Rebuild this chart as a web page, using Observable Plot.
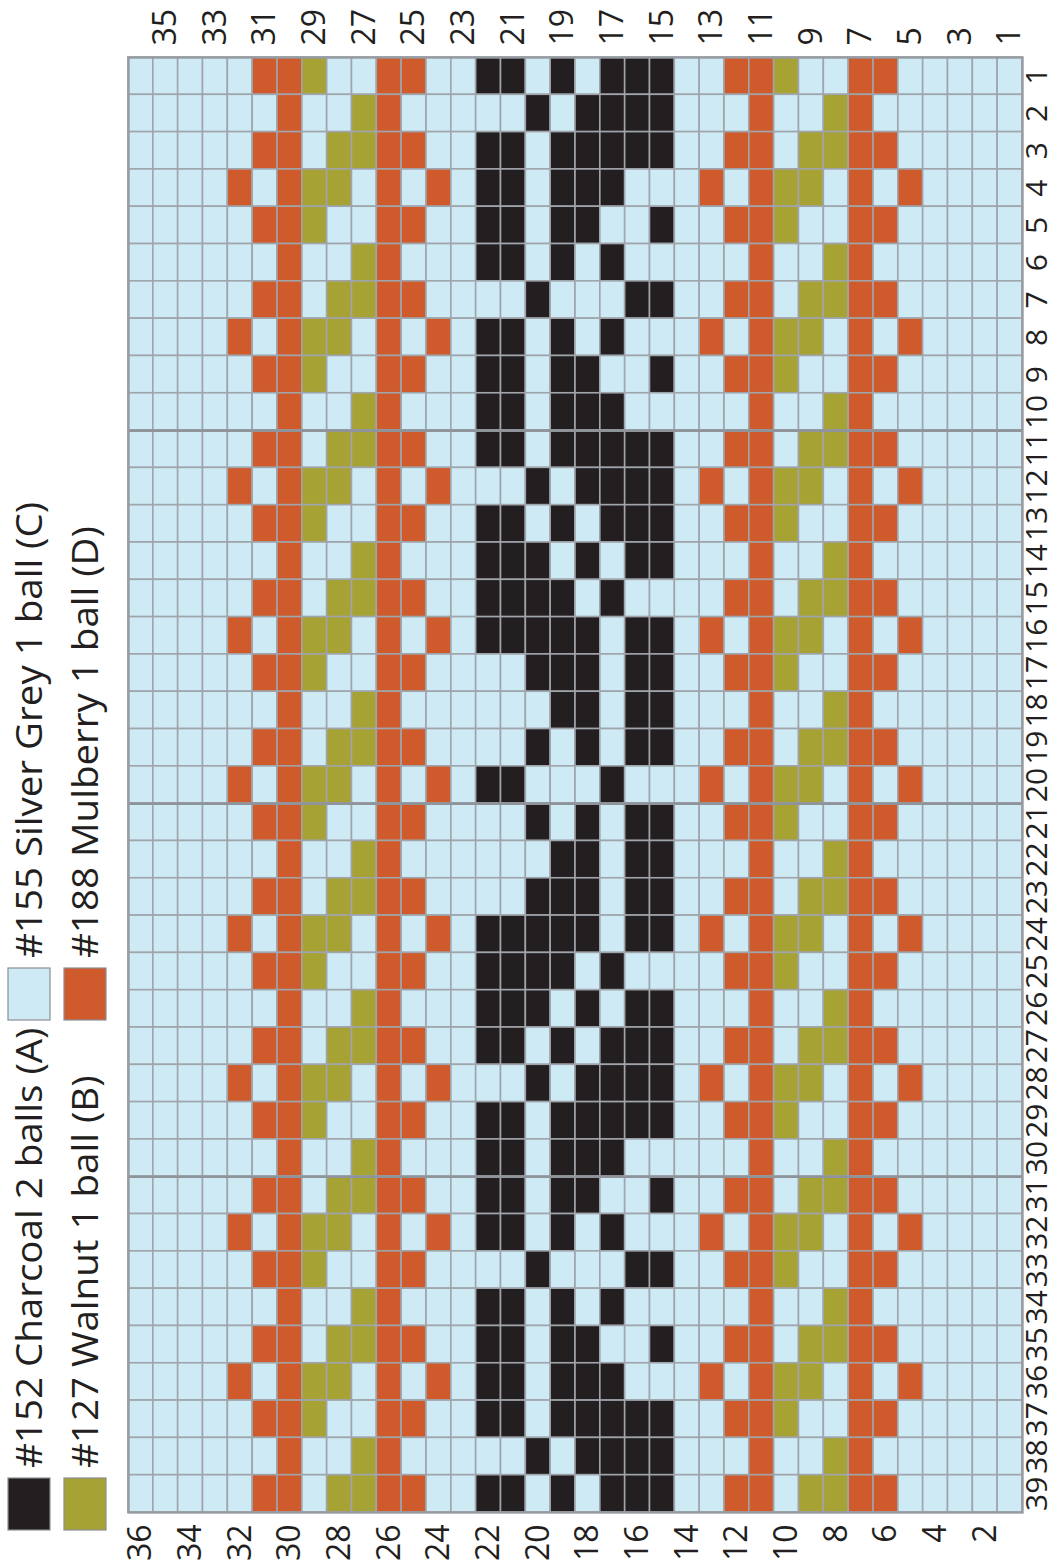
<!DOCTYPE html>
<html><head><meta charset="utf-8">
<script src="https://cdn.jsdelivr.net/npm/d3@7"></script>
<script src="https://cdn.jsdelivr.net/npm/@observablehq/plot@0.6"></script>
<style>
html,body{margin:0;padding:0;background:#fff;}
#chart{position:relative;width:1057px;height:1568px;overflow:hidden;}
</style></head><body><div id="chart"></div>
<script>
// Stitch columns left to right, rows top to bottom
const stitchNumbers = [36,35,34,33,32,31,30,29,28,27,26,25,24,23,22,21,20,19,18,17,16,15,14,13,12,11,10,9,8,7,6,5,4,3,2,1];
const rowNumbers = [1,2,3,4,5,6,7,8,9,10,11,12,13,14,15,16,17,18,19,20,21,22,23,24,25,26,27,28,29,30,31,32,33,34,35,36,37,38,39];
const topTicks = [35,33,31,29,27,25,23,21,19,17,15,13,11,9,7,5,3,1];
const bottomTicks = [36,34,32,30,28,26,24,22,20,18,16,14,12,10,8,6,4,2];
const heavyRowBreaks = [10,20,30];

// Colour codes per cell (A charcoal, B walnut, C silver grey, D mulberry); spaces are only separators
const chartRows = [
  "CCCC CDDBCCDDC C AACACAAA C CDDBCCDDC CCCC",
  "CCCC CCDCCBDCC C CCACAAAA C CCDCCBDCC CCCC",
  "CCCC CDDCBBDDC C AACAAAAA C CDDCBBDDC CCCC",
  "CCCC DCDBBCDCD C AACAAACC C DCDBBCDCD CCCC",
  "CCCC CDDBCCDDC C AACAACCA C CDDBCCDDC CCCC",
  "CCCC CCDCCBDCC C AACACACC C CCDCCBDCC CCCC",
  "CCCC CDDCBBDDC C CCACCCAA C CDDCBBDDC CCCC",
  "CCCC DCDBBCDCD C AACACACC C DCDBBCDCD CCCC",
  "CCCC CDDBCCDDC C AACAACCA C CDDBCCDDC CCCC",
  "CCCC CCDCCBDCC C AACAAACC C CCDCCBDCC CCCC",
  "CCCC CDDCBBDDC C AACAAAAA C CDDCBBDDC CCCC",
  "CCCC DCDBBCDCD C CCACAAAA C DCDBBCDCD CCCC",
  "CCCC CDDBCCDDC C AACACAAA C CDDBCCDDC CCCC",
  "CCCC CCDCCBDCC C AAACACAA C CCDCCBDCC CCCC",
  "CCCC CDDCBBDDC C AAAACACC C CDDCBBDDC CCCC",
  "CCCC DCDBBCDCD C AAAAACAA C DCDBBCDCD CCCC",
  "CCCC CDDBCCDDC C CCAAACAA C CDDBCCDDC CCCC",
  "CCCC CCDCCBDCC C CCCAACAA C CCDCCBDCC CCCC",
  "CCCC CDDCBBDDC C CCACACAA C CDDCBBDDC CCCC",
  "CCCC DCDBBCDCD C AACCCACC C DCDBBCDCD CCCC",
  "CCCC CDDBCCDDC C CCACACAA C CDDBCCDDC CCCC",
  "CCCC CCDCCBDCC C CCCAACAA C CCDCCBDCC CCCC",
  "CCCC CDDCBBDDC C CCAAACAA C CDDCBBDDC CCCC",
  "CCCC DCDBBCDCD C AAAAACAA C DCDBBCDCD CCCC",
  "CCCC CDDBCCDDC C AAAACACC C CDDBCCDDC CCCC",
  "CCCC CCDCCBDCC C AAACACAA C CCDCCBDCC CCCC",
  "CCCC CDDCBBDDC C AACACAAA C CDDCBBDDC CCCC",
  "CCCC DCDBBCDCD C CCACAAAA C DCDBBCDCD CCCC",
  "CCCC CDDBCCDDC C AACAAAAA C CDDBCCDDC CCCC",
  "CCCC CCDCCBDCC C AACAAACC C CCDCCBDCC CCCC",
  "CCCC CDDCBBDDC C AACAACCA C CDDCBBDDC CCCC",
  "CCCC DCDBBCDCD C AACACACC C DCDBBCDCD CCCC",
  "CCCC CDDBCCDDC C CCACCCAA C CDDBCCDDC CCCC",
  "CCCC CCDCCBDCC C AACACACC C CCDCCBDCC CCCC",
  "CCCC CDDCBBDDC C AACAACCA C CDDCBBDDC CCCC",
  "CCCC DCDBBCDCD C AACAAACC C DCDBBCDCD CCCC",
  "CCCC CDDBCCDDC C AACAAAAA C CDDBCCDDC CCCC",
  "CCCC CCDCCBDCC C CCACAAAA C CCDCCBDCC CCCC",
  "CCCC CDDCBBDDC C AACACAAA C CDDCBBDDC CCCC"
];

const yarnCodes = ["A","B","C","D"];
const yarnLabels = ["#152 Charcoal 2 balls (A)","#127 Walnut 1 ball (B)","#155 Silver Grey 1 ball (C)","#188 Mulberry 1 ball (D)"];
const yarnColors = ["#231f20","#a7a234","#cdeaf5","#cf5a2b"];

const cells = chartRows.flatMap((s, i) =>
  s.replace(/ /g, "").split("").map((code, j) => ({row: rowNumbers[i], stitch: stitchNumbers[j], code}))
);

const gridStroke = "#a0a4ab";
const textColor = "#231f20";
const fontSize = 32;

const plot = Plot.plot({
  width: 1057,
  height: 1568,
  marginLeft: 128,
  marginRight: 35,
  marginTop: 57,
  marginBottom: 56,
  style: {fontFamily: "'Open Sans', sans-serif", color: textColor, background: "#fff"},
  x: {type: "linear", domain: [36.5, 0.5], axis: null},
  y: {type: "linear", domain: [39.5, 0.5], axis: null},
  color: {type: "ordinal", domain: yarnCodes, range: yarnColors},
  marks: [
    Plot.rect(cells, {
      x1: d => d.stitch + 0.5, x2: d => d.stitch - 0.5,
      y1: d => d.row - 0.5, y2: d => d.row + 0.5,
      fill: "code", stroke: gridStroke, strokeWidth: 1.6
    }),
    Plot.ruleY(heavyRowBreaks, {y: d => d + 0.5, stroke: "#8f939a", strokeWidth: 2.6}),
    Plot.frame({stroke: "#979ba2", strokeWidth: 2.4}),
    Plot.axisX(topTicks, {anchor: "top", tickSize: 0, tickPadding: 12, tickRotate: -90, fontSize, label: null}),
    Plot.axisX(bottomTicks, {anchor: "bottom", tickSize: 0, tickPadding: 12, tickRotate: -90, fontSize, label: null}),
    Plot.axisY(rowNumbers, {anchor: "right", tickSize: 0, tickPadding: 24, tickRotate: -90, fontSize: 30, label: null})
  ]
});
document.getElementById("chart").appendChild(plot);

// Legend, rotated like the rest of the chart (reads bottom to top)
const svg = d3.select(plot);
const lg = svg.append("g").attr("transform", "translate(0,1568) rotate(-90)")
  .style("font-family", "'Open Sans', sans-serif").style("font-size", "36px")
  .attr("fill", textColor).attr("text-anchor", "start");
const legendPos = [
  {sx: 38, sy: 8},   // A
  {sx: 38, sy: 64},  // B
  {sx: 548, sy: 8},  // C
  {sx: 548, sy: 64}  // D
];
yarnCodes.forEach((code, i) => {
  const p = legendPos[i];
  lg.append("rect").attr("x", p.sx).attr("y", p.sy).attr("width", 52).attr("height", 42)
    .attr("fill", yarnColors[i]).attr("stroke", "#8a8e95").attr("stroke-width", 1.2);
  const tx = p.sx + 62, ty = p.sy + 21;
  lg.append("text")
    .attr("text-anchor", "start")
    .attr("transform", `translate(${tx},${ty}) scale(1.07,1)`)
    .attr("dy", "0.36em")
    .text(yarnLabels[i]);
});
</script></body></html>
